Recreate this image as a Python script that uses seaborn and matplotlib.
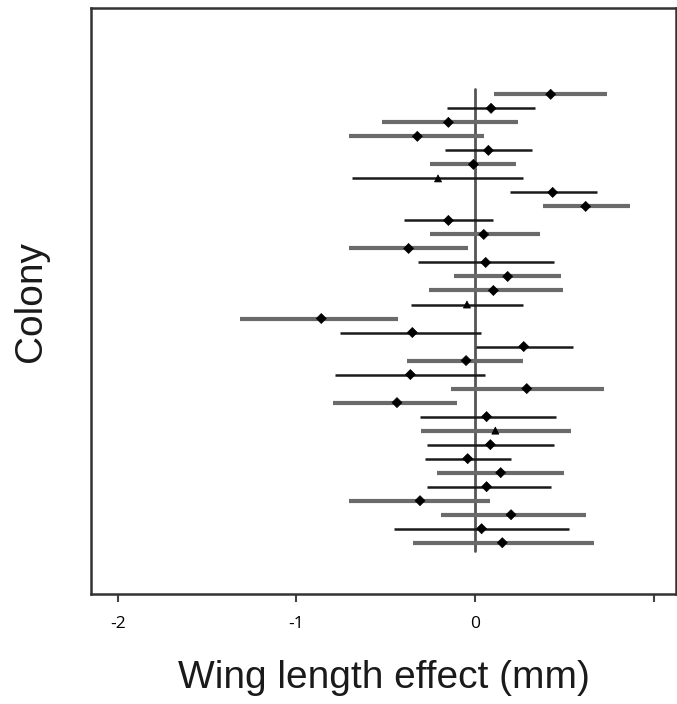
import matplotlib
matplotlib.use("Agg")
import matplotlib.pyplot as plt
import seaborn as sns
import pandas as pd
import numpy as np

# Data (33 colonies, top to bottom)
colony = list(range(1, 34))
estimate = [0.424, 0.090, -0.149, -0.323, 0.075, -0.009, -0.207, 0.435, 0.620, -0.149,
            0.049, -0.372, 0.060, 0.183, 0.103, -0.045, -0.861, -0.351, 0.273, -0.050,
            -0.362, 0.290, -0.437, 0.065, 0.114, 0.086, -0.041, 0.144, 0.065, -0.308,
            0.202, 0.037, 0.153]
lower = [0.106, -0.159, -0.523, -0.706, -0.166, -0.252, -0.689, 0.196, 0.379, -0.398,
         -0.252, -0.706, -0.321, -0.118, -0.260, -0.359, -1.318, -0.756, 0.006, -0.379,
         -0.786, -0.136, -0.796, -0.310, -0.301, -0.271, -0.280, -0.213, -0.271, -0.706,
         -0.192, -0.455, -0.349]
upper = [0.741, 0.336, 0.239, 0.052, 0.318, 0.228, 0.267, 0.685, 0.870, 0.103,
         0.364, -0.041, 0.444, 0.482, 0.491, 0.267, -0.430, 0.034, 0.549, 0.267,
         0.056, 0.723, -0.101, 0.454, 0.538, 0.444, 0.202, 0.500, 0.426, 0.082,
         0.620, 0.528, 0.667]
tone = ["g", "k", "g", "g", "k", "g", "k", "k", "g", "k",
        "g", "g", "k", "g", "g", "k", "g", "k", "k", "g",
        "k", "g", "g", "k", "g", "k", "k", "g", "k", "g",
        "g", "k", "g"]
shape = ["D"] * 33
for i in (6, 15, 24):
    shape[i] = "^"

xticks = [-2, -1, 0, 1]
xticklabels = ["-2", "-1", "0", ""]

df = pd.DataFrame({"colony": colony, "estimate": estimate, "lower": lower,
                   "upper": upper, "tone": tone, "shape": shape})

sns.set_style("white")
fig = plt.figure(figsize=(6.77, 7.04), dpi=100)
ax = fig.add_axes([91 / 677, 1 - 594 / 704, 585 / 677, 586 / 704])

# zero reference line
ax.plot([0, 0], [0.6, 33.6], color="#555555", lw=2.0, zorder=1)

colors = {"g": "#6a6a6a", "k": "#1a1a1a"}
widths = {"g": 3.0, "k": 1.8}
for t in ("g", "k"):
    sub = df[df["tone"] == t]
    ax.hlines(sub["colony"], sub["lower"], sub["upper"], colors=colors[t],
              lw=widths[t], zorder=2)

sns.scatterplot(data=df, x="estimate", y="colony", style="shape",
                markers={"D": "D", "^": "^"}, color="black", s=26,
                edgecolor="black", linewidth=0.5, legend=False, ax=ax, zorder=3)

ax.set_xlim(-2.151, 1.126)
ax.set_ylim(36.66, -5.16)
ax.set_yticks([])
ax.set_xticks(xticks)
ax.set_xticklabels(xticklabels, fontsize=12.5, family=["Open Sans", "DejaVu Sans"])
ax.tick_params(axis="x", direction="out", length=6, width=1.5, colors="#444444",
               labelcolor="black", pad=10, bottom=True)
for sp in ax.spines.values():
    sp.set_color("#333333")
    sp.set_linewidth(1.8)

ax.set_xlabel("Wing length effect (mm)", fontsize=28,
              family=["Liberation Sans", "DejaVu Sans"], labelpad=20, color="#1a1a1a")
ax.set_ylabel("Colony", fontsize=28, family=["Liberation Sans", "DejaVu Sans"],
              labelpad=30, color="#1a1a1a")

fig.savefig("out.png", dpi=100)
